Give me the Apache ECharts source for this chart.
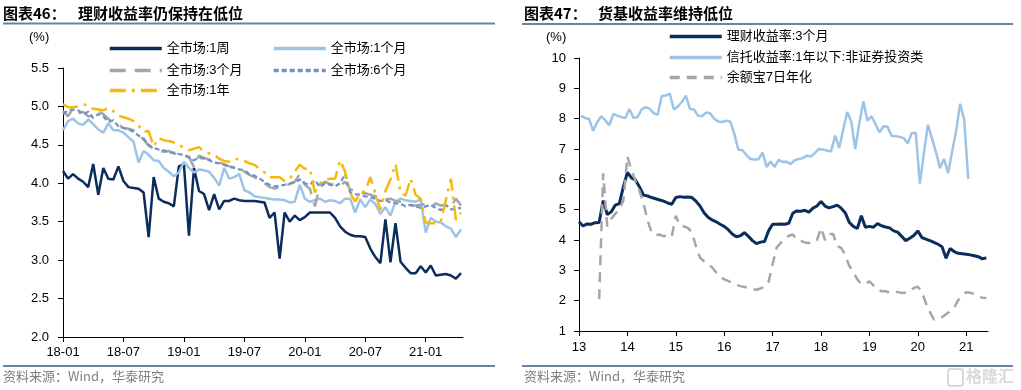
<!DOCTYPE html>
<html><head><meta charset="utf-8">
<script src="https://cdn.jsdelivr.net/npm/echarts@6/dist/echarts.min.js"></script>
<style>html,body{margin:0;padding:0;background:#fff}#c{width:1021px;height:390px}</style>
</head><body><div id="c"></div>
<script>
// ---------- Left chart: 理财收益率 (half-month steps from 2018-01) ----------
const leftTickLabels = ['18-01','18-07','19-01','19-07','20-01','20-07','21-01'];
const leftYTicks = [2.0, 2.5, 3.0, 3.5, 4.0, 4.5, 5.0, 5.5];
const leftNames = ['全市场:1周','全市场:1个月','全市场:3个月','全市场:6个月','全市场:1年'];

const week1 = [4.16,4.06,4.12,4.06,4.02,3.95,4.25,3.85,4.2,4.06,
 4.05,4.22,4.03,3.95,3.94,3.93,3.88,3.3,4.08,3.8,
 3.76,3.74,3.7,4.22,4.25,3.32,4.2,3.9,3.86,3.65,
 3.86,3.66,3.77,3.77,3.8,3.78,3.77,3.77,3.77,3.76,
 3.75,3.55,3.62,3.02,3.62,3.5,3.58,3.52,3.56,3.62,
 3.62,3.62,3.62,3.62,3.55,3.44,3.37,3.33,3.31,3.31,
 3.3,3.15,3.04,2.96,3.53,2.97,3.48,2.98,2.9,2.83,
 2.83,2.92,2.84,2.93,2.8,2.81,2.82,2.8,2.76,2.83];
const month1 = [4.69,4.81,4.84,4.78,4.76,4.83,4.77,4.7,4.66,4.78,
 4.69,4.69,4.66,4.6,4.54,4.27,4.42,4.37,4.3,4.29,
 4.2,4.15,4.09,4.14,4.28,4.2,4.14,4.18,4.17,4.15,
 4.07,3.97,4.2,4.06,4.08,4.12,3.91,3.88,3.83,3.82,
 3.81,3.8,3.79,3.79,3.78,3.75,3.76,3.98,3.8,3.76,
 3.78,3.8,3.76,3.78,3.77,3.74,3.8,3.8,3.62,3.79,
 3.69,3.79,3.73,3.6,3.69,3.58,3.76,3.8,3.78,3.77,
 3.76,3.79,3.36,3.55,3.5,3.49,3.44,3.41,3.3,3.4];
const month3 = [4.94,4.87,4.98,4.91,4.93,4.87,4.88,4.94,4.9,4.84,
 4.78,4.76,4.72,4.71,4.69,4.63,4.57,4.49,4.45,4.43,
 4.41,4.42,4.39,4.37,4.36,4.35,4.21,4.36,4.33,4.31,
 4.28,4.27,4.25,4.22,4.21,4.19,4.15,4.11,4.08,4.04,
 4.0,3.95,3.93,3.95,3.97,3.99,4.02,4.12,3.98,3.93,
 3.7,3.98,4.02,3.99,3.98,3.97,4.02,3.92,3.9,3.88,
 3.87,3.85,3.83,3.82,3.79,3.8,3.77,3.76,3.76,3.71,
 3.71,3.72,3.73,3.68,3.74,3.71,3.72,3.7,3.8,3.71];
const month6 = [4.9,4.95,4.96,4.95,4.9,4.93,4.85,4.9,4.87,4.8,
 4.82,4.74,4.72,4.7,4.67,4.62,4.58,4.5,4.46,4.44,
 4.43,4.4,4.4,4.38,4.37,4.33,4.3,4.33,4.32,4.3,
 4.27,4.26,4.24,4.21,4.2,4.18,4.17,4.12,4.1,4.06,
 4.02,3.98,3.96,3.97,3.98,4.0,4.01,4.05,4.0,3.98,
 4.04,3.95,4.0,3.98,3.96,4.0,4.12,3.88,3.86,3.85,
 3.83,3.82,3.8,3.77,3.78,3.75,3.74,3.73,3.7,3.72,
 3.7,3.68,3.7,3.72,3.68,3.65,3.72,3.66,3.67,3.68];
const year1 = [5.03,4.99,4.99,5.0,5.03,5.01,4.97,4.96,4.95,4.98,
 4.94,4.88,4.86,4.84,4.81,4.75,4.67,4.68,4.48,4.59,
 4.56,4.55,4.53,4.5,4.46,4.43,4.45,4.47,4.41,4.39,
 4.37,4.32,4.29,4.28,4.32,4.31,4.29,4.26,4.24,4.19,
 4.14,4.08,4.08,4.08,4.03,4.06,4.15,4.24,4.19,4.19,
 3.88,4.0,4.04,4.06,4.06,4.3,4.15,3.87,3.76,3.88,
 3.9,4.08,3.87,3.65,3.9,4.05,4.25,3.88,3.84,4.06,
 3.85,3.8,3.49,3.48,3.48,3.5,3.78,4.06,3.52,3.62];

// ---------- Right chart: 货基收益率 (monthly from 2013-01) ----------
const rightTickLabels = ['13','14','15','16','17','18','19','20','21'];
const rightNames = ['理财收益率:3个月','信托收益率:1年以下:非证券投资类','余额宝7日年化'];
const wealth3m = [4.6,4.46,4.53,4.52,4.57,4.58,5.3,4.84,4.93,5.15,
 5.2,5.75,6.23,6.05,5.98,5.75,5.48,5.45,5.4,5.36,
 5.32,5.28,5.22,5.18,5.4,5.43,5.41,5.42,5.4,5.28,
 5.12,4.9,4.75,4.66,4.6,4.52,4.45,4.34,4.2,4.11,
 4.14,4.24,4.12,3.98,3.88,3.93,3.95,4.3,4.52,4.52,
 4.53,4.52,4.55,4.88,4.96,4.95,4.98,4.92,5.05,5.12,
 5.27,5.12,5.06,5.1,5.15,5.05,4.9,4.58,4.45,4.38,
 4.8,4.42,4.45,4.42,4.54,4.47,4.43,4.4,4.3,4.26,
 4.12,3.98,4.06,4.15,4.3,4.08,4.03,3.98,3.92,3.86,
 3.78,3.4,3.72,3.62,3.56,3.55,3.53,3.51,3.48,3.45,
 3.38,3.41];
const wealthStartMonth = 0;
const trust = [8.1,8.02,7.99,7.6,7.88,8.08,7.95,7.78,8.15,8.1,
 8.05,8.02,8.32,8.03,8.05,8.3,8.38,8.33,8.18,8.13,
 8.75,8.76,8.83,8.3,8.4,8.55,8.76,8.32,8.3,8.1,
 8.08,8.2,8.18,8.0,7.91,7.89,7.93,7.91,7.5,6.98,
 6.96,6.8,6.67,6.65,6.66,6.89,6.41,6.59,6.41,6.64,
 6.57,6.58,6.5,6.63,6.67,6.7,6.78,6.75,6.87,7.0,
 6.98,6.95,6.92,7.44,7.03,7.64,8.22,7.91,7.0,7.86,
 8.57,7.93,8.08,7.82,7.55,7.75,7.73,7.44,7.42,7.4,
 7.36,7.18,7.53,7.53,5.86,6.85,7.8,7.35,6.9,6.37,
 6.67,6.2,6.9,7.6,8.49,7.97,6.01];
const trustStartMonth = 0.5;
const yuebao = [2.05,6.2,4.45,4.7,4.87,5.0,5.3,6.76,6.3,5.95,
 5.62,5.2,4.65,4.25,4.16,4.18,4.12,4.18,4.12,4.8,
 4.48,4.45,4.4,4.25,3.8,3.42,3.3,3.18,3.1,2.93,
 2.8,2.7,2.65,2.58,2.52,2.48,2.45,2.42,2.38,2.36,
 2.4,2.47,2.62,3.2,3.75,3.9,4.02,4.14,4.18,4.0,
 3.97,3.92,3.9,4.0,4.0,4.4,4.0,4.2,4.2,3.8,
 3.74,3.5,3.15,2.95,2.7,2.55,2.55,2.64,2.5,2.37,
 2.31,2.31,2.27,2.25,2.29,2.25,2.27,2.33,2.42,2.46,
 2.3,1.92,1.62,1.38,1.39,1.45,1.55,1.65,1.77,2.02,
 2.15,2.28,2.26,2.22,2.15,2.1,2.09];
const yuebaoStartMonth = 5;

// ---------- build ----------
const halfMonth = arr => arr.map((v, i) => [i * 0.5, v]);
const monthly = (arr, start) => arr.map((v, i) => [13 + (start + i) / 12, v]);

const NUM = '"Liberation Sans", Arial, "Noto Sans CJK SC", sans-serif';
const CJK = '"Noto Sans CJK SC", sans-serif';
const NAVY = '#0B2D5C', LBLUE = '#9DC3E6', GRAY = '#A6A6A6', SBLUE = '#6F93C4', GOLD = '#F5B90F';

function axisCommon() {
  return {
    axisLine: {show: true, lineStyle: {color: '#000', width: 1}},
    axisTick: {show: true, inside: false, length: 5, lineStyle: {color: '#000', width: 1}},
    splitLine: {show: false},
    axisLabel: {color: '#000', fontSize: 13, fontFamily: NUM}
  };
}
function line(name, data, color, width, type, xi) {
  return {name, type: 'line', xAxisIndex: xi, yAxisIndex: xi, data, showSymbol: false, symbol: 'none',
    smooth: false, animation: false, lineStyle: {color, width, type}, itemStyle: {color}};
}
function leg(name, left, top) {
  return {data: [name], left, top, itemWidth: 52, itemHeight: 2, padding: 0, itemGap: 0,
    lineStyle: {width: 3.5}, itemStyle: {opacity: 0},
    textStyle: {color: '#000', fontSize: 13, fontFamily: NUM}, selectedMode: false};
}

const chart = echarts.init(document.getElementById('c'));
chart.setOption({
  animation: false,
  backgroundColor: '#fff',
  grid: [
    {left: 63, top: 68, width: 400, height: 269, outerBoundsMode: 'none', containLabel: false},
    {left: 579, top: 58, width: 409, height: 273, outerBoundsMode: 'none', containLabel: false}
  ],
  xAxis: [
    Object.assign(axisCommon(), {type: 'value', gridIndex: 0, min: 0, max: 39.7, interval: 6,
      axisLabel: Object.assign(axisCommon().axisLabel, {margin: 9, showMaxLabel: false,
        formatter: v => (v % 6 === 0 ? (leftTickLabels[v / 6] || '') : '')})}),
    Object.assign(axisCommon(), {type: 'value', gridIndex: 1, min: 13, max: 21.45, interval: 1,
      axisLabel: Object.assign(axisCommon().axisLabel, {margin: 10, showMaxLabel: false,
        formatter: v => (Number.isInteger(v) ? (rightTickLabels[v - 13] || '') : '')})})
  ],
  yAxis: [
    Object.assign(axisCommon(), {type: 'value', gridIndex: 0, min: leftYTicks[0], max: leftYTicks[leftYTicks.length - 1], interval: 0.5,
      axisLabel: Object.assign(axisCommon().axisLabel, {margin: 14, formatter: v => v.toFixed(1)})}),
    Object.assign(axisCommon(), {type: 'value', gridIndex: 1, min: 1, max: 10, interval: 1,
      axisLabel: Object.assign(axisCommon().axisLabel, {margin: 13})})
  ],
  legend: [
    leg(leftNames[0], 108, 42), leg(leftNames[1], 272, 42),
    leg(leftNames[2], 108, 64), leg(leftNames[3], 272, 64),
    leg(leftNames[4], 108, 84),
    leg(rightNames[0], 668, 30), leg(rightNames[1], 668, 51), leg(rightNames[2], 668, 71)
  ],
  series: [
    line(leftNames[0], halfMonth(week1), NAVY, 2.5, 'solid', 0),
    line(leftNames[1], halfMonth(month1), LBLUE, 2.5, 'solid', 0),
    line(leftNames[2], halfMonth(month3), GRAY, 2.5, [16, 9], 0),
    line(leftNames[3], halfMonth(month6), SBLUE, 2.2, [5, 3], 0),
    line(leftNames[4], halfMonth(year1), GOLD, 2.5, [16, 6, 3, 6], 0),
    line(rightNames[0], monthly(wealth3m, wealthStartMonth), NAVY, 3, 'solid', 1),
    line(rightNames[1], monthly(trust, trustStartMonth), LBLUE, 2.5, 'solid', 1),
    line(rightNames[2], monthly(yuebao, yuebaoStartMonth), GRAY, 2.5, [10, 7], 1)
  ],
  graphic: [
    {type: 'text', left: 3, top: 6, style: {text: '图表46：', font: 'bold 15px ' + CJK, fill: '#000'}},
    {type: 'text', left: 78, top: 6, style: {text: '理财收益率仍保持在低位', font: 'bold 15px ' + CJK, fill: '#000'}},
    {type: 'text', left: 524, top: 6, style: {text: '图表47：', font: 'bold 15px ' + CJK, fill: '#000'}},
    {type: 'text', left: 598, top: 6, style: {text: '货基收益率维持低位', font: 'bold 15px ' + CJK, fill: '#000'}},
    {type: 'line', shape: {x1: 3, y1: 23.5, x2: 495, y2: 23.5}, style: {stroke: '#6883A6', lineWidth: 2}},
    {type: 'line', shape: {x1: 522, y1: 24, x2: 1013, y2: 24}, style: {stroke: '#6883A6', lineWidth: 2}},
    {type: 'text', left: 29, top: 31, style: {text: '(%)', font: '13px ' + NUM, fill: '#000'}},
    {type: 'text', left: 546, top: 31, style: {text: '(%)', font: '13px ' + NUM, fill: '#000'}},
    {type: 'line', shape: {x1: 3, y1: 366, x2: 495, y2: 366}, style: {stroke: '#6883A6', lineWidth: 2}},
    {type: 'line', shape: {x1: 522, y1: 366, x2: 1013, y2: 366}, style: {stroke: '#6883A6', lineWidth: 2}},
    {type: 'text', left: 3, top: 370, style: {text: '资料来源：Wind，华泰研究', font: '13px ' + CJK, fill: '#808080'}},
    {type: 'text', left: 524, top: 370, style: {text: '资料来源：Wind，华泰研究', font: '13px ' + CJK, fill: '#808080'}},
    {type: 'text', left: 966, top: 368, style: {text: '格隆汇', font: 'bold 16px ' + CJK, fill: '#d9d9d9'}},
    {type: 'rect', shape: {x: 948, y: 369, width: 15, height: 17, r: 3}, style: {fill: 'none', stroke: '#d9d9d9', lineWidth: 2}}
  ]
});
</script></body></html>
